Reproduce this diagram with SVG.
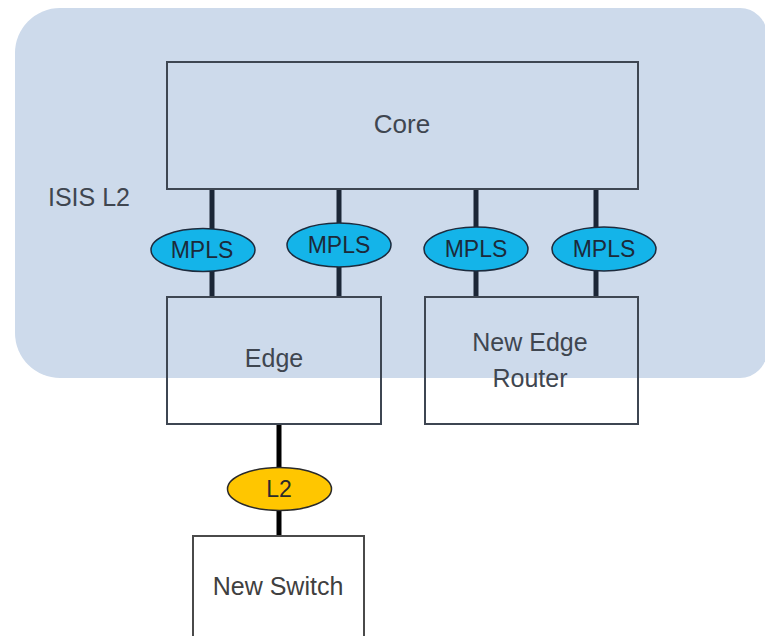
<svg xmlns="http://www.w3.org/2000/svg" width="765" height="636" viewBox="0 0 765 636">
  <style>
    .box { fill: none; stroke: #3e4652; stroke-width: 2; }
    .lbl { font-family: "Liberation Sans", Arial, sans-serif; font-size: 25px; fill: #3f4650; text-anchor: middle; }
    .mpls { fill: #14b4e9; stroke: #1d2b3d; stroke-width: 1.5; }
    .l2 { fill: #ffc600; stroke: #2a2a2a; stroke-width: 1.5; }
    .elbl { font-family: "Liberation Sans", Arial, sans-serif; font-size: 23px; fill: #1c2a3a; text-anchor: middle; }
    .link { stroke: #1b2636; stroke-width: 5; fill: none; }
    .link2 { stroke: #000; stroke-width: 5; fill: none; }
  </style>

  <rect width="765" height="636" fill="#ffffff"/>

  <!-- ISIS L2 domain -->
  <g id="isis-l2">
    <path d="M60 8 H740 A27 27 0 0 1 767 35 V351 A27 27 0 0 1 740 378 H60 A45 45 0 0 1 15 333 V53 A45 45 0 0 1 60 8 Z" fill="#cddaeb"/>
    <text class="lbl" x="48" y="206" style="text-anchor:start">ISIS L2</text>
  </g>

  <!-- connectors -->
  <g id="connectors">
    <line class="link" x1="212" y1="189" x2="212" y2="297"/>
    <line class="link" x1="339" y1="189" x2="339" y2="297"/>
    <line class="link" x1="476" y1="189" x2="476" y2="297"/>
    <line class="link" x1="596" y1="189" x2="596" y2="297"/>
    <line class="link2" x1="279" y1="424" x2="279" y2="536"/>
  </g>

  <g id="core">
    <rect class="box" x="167" y="62" width="471" height="127"/>
    <text class="lbl" x="402" y="133" style="font-size:26px">Core</text>
  </g>

  <g id="edge">
    <rect class="box" x="167" y="297" width="214" height="127"/>
    <text class="lbl" x="274" y="367">Edge</text>
  </g>

  <g id="new-edge-router">
    <rect class="box" x="425" y="297" width="213" height="127"/>
    <text class="lbl" x="530" y="351">New Edge</text>
    <text class="lbl" x="530" y="387">Router</text>
  </g>

  <g id="new-switch">
    <rect class="box" x="193" y="536" width="171" height="110" style="stroke:#4a4a4a"/>
    <text class="lbl" x="278" y="595" style="fill:#404040">New Switch</text>
  </g>

  <g id="mpls-1">
    <ellipse class="mpls" cx="203" cy="250" rx="52" ry="21.5"/>
    <text class="elbl" x="202" y="258">MPLS</text>
  </g>
  <g id="mpls-2">
    <ellipse class="mpls" cx="339" cy="245" rx="52" ry="22"/>
    <text class="elbl" x="339" y="253">MPLS</text>
  </g>
  <g id="mpls-3">
    <ellipse class="mpls" cx="476" cy="249" rx="52" ry="22"/>
    <text class="elbl" x="476" y="257">MPLS</text>
  </g>
  <g id="mpls-4">
    <ellipse class="mpls" cx="604" cy="249" rx="52" ry="22"/>
    <text class="elbl" x="604" y="257">MPLS</text>
  </g>

  <g id="l2">
    <ellipse class="l2" cx="279.5" cy="489" rx="52" ry="21.5"/>
    <text class="elbl" x="279" y="497" style="fill:#2a2a2a">L2</text>
  </g>
</svg>
